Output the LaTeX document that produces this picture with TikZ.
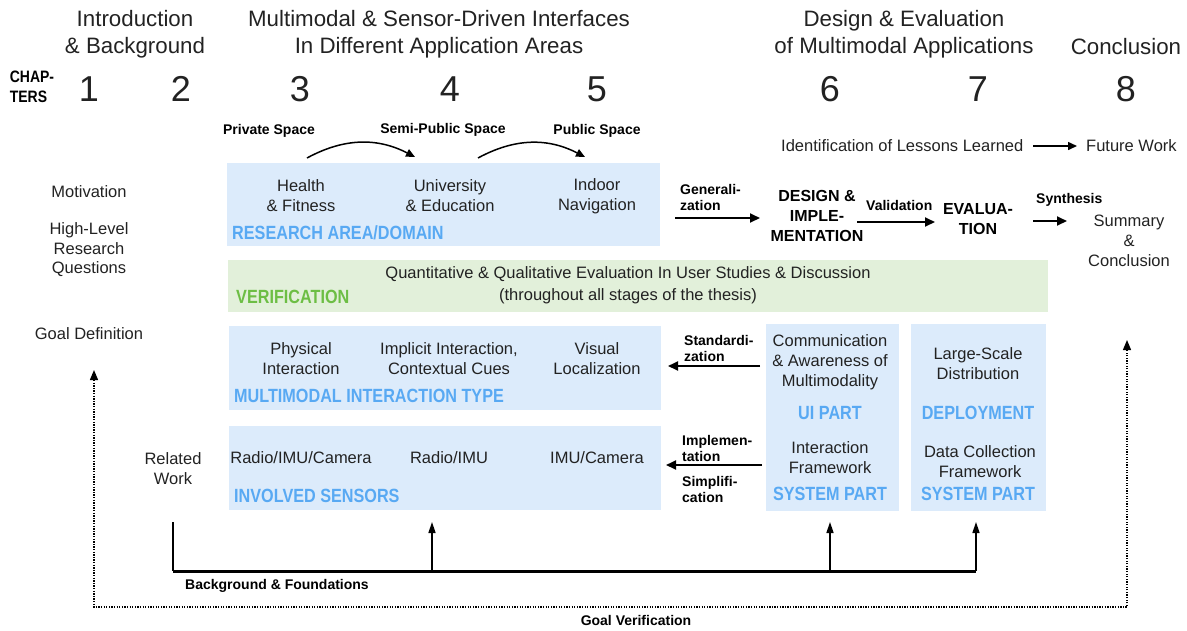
\documentclass[tikz,border=0pt]{standalone}
\usepackage{fontspec}
\setmainfont{Liberation Sans}
\usetikzlibrary{arrows.meta}
\definecolor{boxblue}{HTML}{DCEBFB}
\definecolor{catblue}{HTML}{58A9F3}
\definecolor{boxgreen}{HTML}{E2F0DA}
\definecolor{catgreen}{HTML}{6DBE45}
\definecolor{ink}{HTML}{222222}
% category captions are set a little taller than the plain bold face
\newcommand{\tallcaps}[1]{\scalebox{1}[1.18]{#1}}
\begin{document}
\begin{tikzpicture}[x=1pt,y=-1pt,
  hdr/.style={font=\fontsize{22.3}{27}\selectfont, align=center, inner sep=0pt, text=ink},
  num/.style={font=\fontsize{36}{36}\selectfont, inner sep=0pt, text=ink},
  txt/.style={font=\fontsize{16.5}{20}\selectfont, align=center, inner sep=0pt, text=ink},
  lbl/.style={font=\bfseries\fontsize{14}{16}\selectfont, align=left, inner sep=0pt, text=black},
  stage/.style={font=\bfseries\fontsize{16}{20}\selectfont, align=center, inner sep=0pt, text=black},
  cat/.style={font=\bfseries\fontsize{16.2}{19}\selectfont, inner sep=0pt, text=catblue},
  bluebox/.style={fill=boxblue, draw=none, inner sep=0pt, anchor=north west},
  greenbox/.style={fill=boxgreen, draw=none, inner sep=0pt, anchor=north west},
  arr/.style={line width=1.8pt, -{Triangle[length=10pt,width=9pt]}},
  thinarr/.style={line width=1.5pt, -{Triangle[length=9pt,width=8pt]}},
  uparr/.style={line width=1.6pt, -{Triangle[length=11pt,width=7pt]}},
  dotline/.style={line width=1.3pt, dash pattern=on 1.3pt off 1.3pt},
  dotarr/.style={dotline, -{Triangle[length=10pt,width=8pt]}},
]
\useasboundingbox (0,0) rectangle (1187,630);

% ---------- shaded areas ----------
\node (ra)   [bluebox, minimum width=433pt, minimum height=83pt] at (227,163) {};
\node (ver)  [greenbox, minimum width=820pt, minimum height=52pt] at (228,260) {};
\node (mit)  [bluebox, minimum width=432pt, minimum height=84pt] at (229,326) {};
\node (sens) [bluebox, minimum width=432pt, minimum height=84pt] at (229,426) {};
\node (ui)   [bluebox, minimum width=133pt, minimum height=187pt] at (766,324) {};
\node (dep)  [bluebox, minimum width=135pt, minimum height=187pt] at (911,324) {};

% ---------- chapter headings ----------
\node (h12) [hdr] at (135,34) {Introduction\\\& Background};
\node (h35) [hdr] at (439,34) {Multimodal \& Sensor-Driven Interfaces\\In Different Application Areas};
\node (h67) [hdr] at (904,34) {Design \& Evaluation\\of Multimodal Applications};
\node (h8)  [hdr] at (1126,47) {Conclusion};

\node (chap) [lbl, align=left, font=\bfseries\fontsize{14}{19.5}\selectfont] at (32,87) {\tallcaps{CHAP-}\\\tallcaps{TERS}};
\node (n1) [num] at (89,89) {1};
\node (n2) [num] at (181,89) {2};
\node (n3) [num] at (300,89) {3};
\node (n4) [num] at (450,89) {4};
\node (n5) [num] at (597,89) {5};
\node (n6) [num] at (830,89) {6};
\node (n7) [num] at (978,89) {7};
\node (n8) [num] at (1126,89) {8};

% ---------- spaces ----------
\node (priv)   [lbl] at (269,131) {Private Space};
\node (semi)   [lbl] at (443,130) {Semi-Public Space};
\node (pub)    [lbl] at (597,131) {Public Space};
\coordinate (c1s) at (307,158);
\coordinate (c1e) at (415,157);
\coordinate (c2s) at (478,158);
\coordinate (c2e) at (585,157);
\draw[thinarr] (c1s) to[bend left=28] (c1e);
\draw[thinarr] (c2s) to[bend left=28] (c2e);

\node (lessons) [txt, anchor=west] at (781,146) {Identification of Lessons Learned};
\node (future)  [txt, anchor=west] at (1086,146) {Future Work};
\coordinate (le) at (1033,146);
\coordinate (fe) at (1077,146);
\draw[thinarr] (le) -- (fe);

% ---------- left column ----------
\node (motiv) [txt] at (89,192) {Motivation};
\node (rq)    [txt, font=\fontsize{16.5}{19.5}\selectfont] at (89,250) {High-Level\\Research\\Questions};
\node (goal)  [txt] at (89,334) {Goal Definition};
\node (rel)   [txt] at (173,469) {Related\\Work};

% ---------- research area ----------
\node (health) [txt] at (301,196) {Health\\\& Fitness};
\node (univ)   [txt] at (450,196) {University\\\& Education};
\node (indoor) [txt] at (597,196) {Indoor\\Navigation};
\node (racat)  [cat, anchor=west] at (232,233) {\tallcaps{RESEARCH AREA/DOMAIN}};

% ---------- verification ----------
\node (quant) [txt, font=\fontsize{16.5}{22}\selectfont] at (628,285) {Quantitative \& Qualitative Evaluation In User Studies \& Discussion\\(throughout all stages of the thesis)};
\node (vercat) [cat, text=catgreen, anchor=west] at (236,297) {\tallcaps{VERIFICATION}};

% ---------- process chain ----------
\node (gen)  [lbl, anchor=west] at (680,197) {Generali-\\zation};
\node (desi) [stage] at (817,216) {DESIGN \&\\IMPLE-\\MENTATION};
\node (val)  [lbl, anchor=west] at (866,205) {Validation};
\node (eval) [stage] at (978,219) {EVALUA-\\TION};
\node (syn)  [lbl, anchor=west] at (1036,200) {Synthesis};
\node (summ) [txt] at (1129,241) {Summary\\\&\\Conclusion};
\coordinate (g1) at (675,218);
\coordinate (g2) at (760,218);
\coordinate (v1) at (857,222);
\coordinate (v2) at (935,222);
\coordinate (s1) at (1033,221);
\coordinate (s2) at (1067,221);
\draw[arr] (g1) -- (g2);
\draw[arr] (v1) -- (v2);
\draw[arr] (s1) -- (s2);

% ---------- interaction type ----------
\node (phys) [txt] at (301,359) {Physical\\Interaction};
\node (impl) [txt] at (449,359) {Implicit Interaction,\\Contextual Cues};
\node (vis)  [txt] at (597,359) {Visual\\Localization};
\node (mitcat) [cat, anchor=west] at (234,396) {\tallcaps{MULTIMODAL INTERACTION TYPE}};

% ---------- sensors ----------
\node (rimc) [txt] at (301,458) {Radio/IMU/Camera};
\node (rim)  [txt] at (449,458) {Radio/IMU};
\node (imc)  [txt] at (597,458) {IMU/Camera};
\node (senscat) [cat, anchor=west] at (234,496) {\tallcaps{INVOLVED SENSORS}};

% ---------- UI / system part ----------
\node (comm) [txt] at (830,362) {Communication\\\& Awareness of\\Multimodality};
\node (uicat) [cat] at (830,413) {\tallcaps{UI PART}};
\node (ifw)  [txt] at (830,458) {Interaction\\Framework};
\node (syscat1) [cat] at (830,494) {\tallcaps{SYSTEM PART}};

% ---------- deployment ----------
\node (lsd)  [txt] at (978,364) {Large-Scale\\Distribution};
\node (depcat) [cat] at (978,413) {\tallcaps{DEPLOYMENT}};
\node (dcf)  [txt] at (980,462) {Data Collection\\Framework};
\node (syscat2) [cat] at (978,494) {\tallcaps{SYSTEM PART}};

% ---------- feedback arrows ----------
\node (std)  [lbl, anchor=west] at (684,348) {Standardi-\\zation};
\node (imp)  [lbl, anchor=west] at (682,448) {Implemen-\\tation};
\node (simp) [lbl, anchor=west] at (682,489) {Simplifi-\\cation};
\coordinate (st1) at (760,366);
\coordinate (st2) at (668,366);
\coordinate (im1) at (762,465);
\coordinate (im2) at (666,465);
\draw[arr] (st1) -- (st2);
\draw[arr] (im1) -- (im2);

% ---------- background & foundations ----------
\coordinate (bf0) at (173,522);
\coordinate (bfc) at (173,571);
\coordinate (bf1) at (432,571);
\coordinate (bf2) at (830,571);
\coordinate (bf3) at (976,571);
\coordinate (t1) at (432,522);
\coordinate (t2) at (830,522);
\coordinate (t3) at (976,522);
\draw[line width=1.6pt] (bf0) -- (bfc);
\draw[line width=3pt] (bfc) -- (bf3);
\draw[uparr] (bf1) -- (t1);
\draw[uparr] (bf2) -- (t2);
\draw[uparr] (bf3) -- (t3);
\node (bgf) [lbl, anchor=west] at (185,586) {Background \& Foundations};

% ---------- goal verification ----------
\coordinate (gv0) at (94,607);
\coordinate (gv1) at (1127,607);
\coordinate (gvl) at (94,370);
\coordinate (gvr) at (1127,340);
\coordinate (gvlb) at (94,380);
\coordinate (gvrb) at (1127,350);
\draw[dotline] (gvlb) -- (gv0) -- (gv1) -- (gvrb);
\draw[dotarr] (gvlb) -- (gvl);
\draw[dotarr] (gvrb) -- (gvr);
\node (gvt) [lbl, font=\bfseries\fontsize{14}{16}\selectfont] at (636,620) {Goal Verification};
\end{tikzpicture}
\end{document}
